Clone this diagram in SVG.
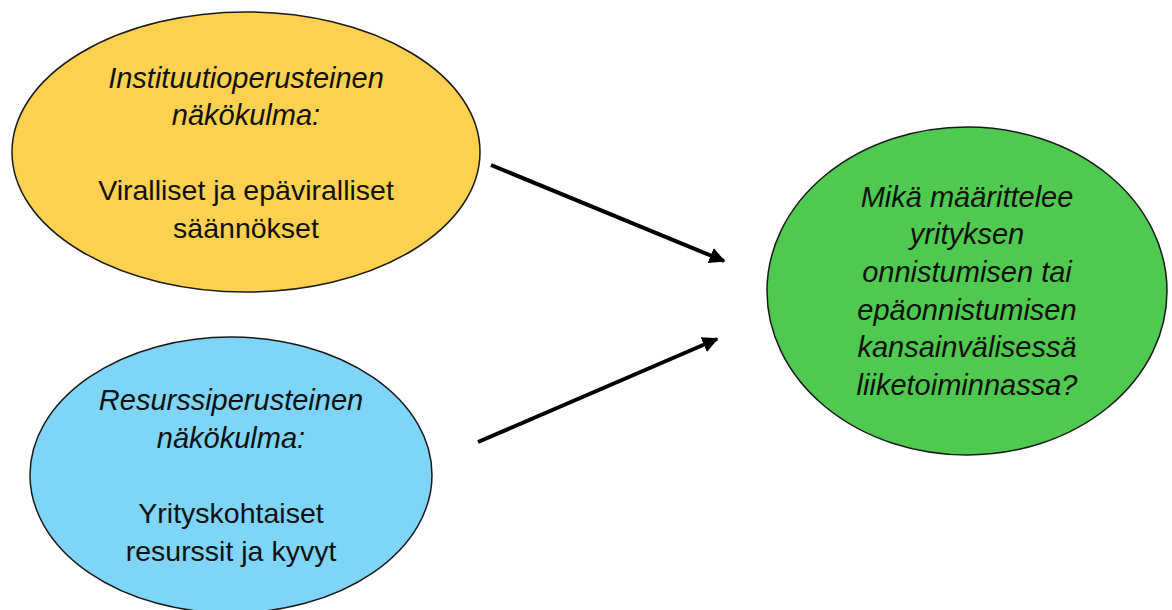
<svg xmlns="http://www.w3.org/2000/svg" width="1172" height="610" viewBox="0 0 1172 610">
<style>
.node{stroke:#1a1a1a;stroke-width:1.5}
.t{font-family:"Liberation Sans",Arial,sans-serif;font-size:28.5px;fill:#111;text-anchor:middle}
.i{font-style:italic;font-size:29px}
.conn{stroke:#000;stroke-width:4;fill:none;marker-end:url(#ah)}
</style>
<defs>
<marker id="ah" viewBox="0 0 10 10" refX="9" refY="5" markerWidth="4" markerHeight="4" orient="auto" markerUnits="strokeWidth">
<path d="M0,0 L10,5 L0,10 z" fill="#000"/>
</marker>
</defs>
<rect width="1172" height="610" fill="#fff"/>
<g id="node-institution">
<ellipse class="node" cx="246" cy="152" rx="234" ry="140" fill="#FCD14F"/>
<text class="t i" x="246" y="88">Instituutioperusteinen</text>
<text class="t i" x="246" y="125">näkökulma:</text>
<text class="t" x="246" y="200">Viralliset ja epäviralliset</text>
<text class="t" x="246" y="238">säännökset</text>
</g>
<g id="node-resource">
<ellipse class="node" cx="231" cy="475" rx="201" ry="138" fill="#7ED5F7"/>
<text class="t i" x="231" y="410">Resurssiperusteinen</text>
<text class="t i" x="231" y="448">näkökulma:</text>
<text class="t" x="231" y="523">Yrityskohtaiset</text>
<text class="t" x="231" y="561">resurssit ja kyvyt</text>
</g>
<g id="node-question">
<ellipse class="node" cx="967" cy="291" rx="200" ry="164" fill="#4FC94F"/>
<text class="t i" x="967" y="207">Mikä määrittelee</text>
<text class="t i" x="967" y="244">yrityksen</text>
<text class="t i" x="967" y="282">onnistumisen tai</text>
<text class="t i" x="967" y="320">epäonnistumisen</text>
<text class="t i" x="967" y="357">kansainvälisessä</text>
<text class="t i" x="967" y="395">liiketoiminnassa?</text>
</g>
<g id="connectors">
<line class="conn" x1="491" y1="165" x2="724" y2="261"/>
<line class="conn" x1="478" y1="442" x2="717" y2="339"/>
</g>
</svg>
